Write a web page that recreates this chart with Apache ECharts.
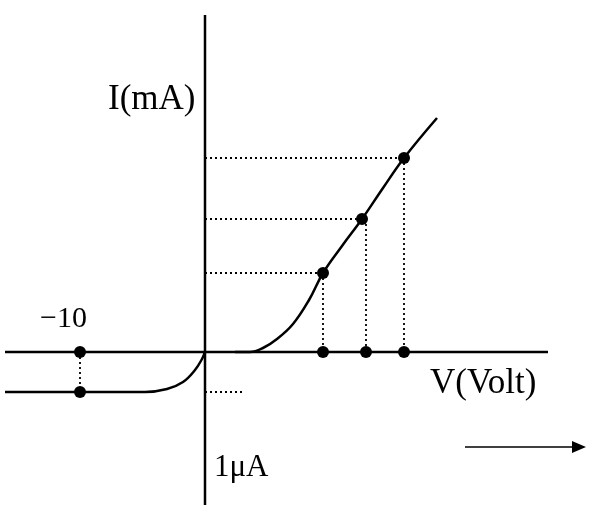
<!DOCTYPE html>
<html><head><meta charset="utf-8">
<script src="https://cdn.jsdelivr.net/npm/echarts@6/dist/echarts.min.js"></script>
<style>html,body{margin:0;padding:0;background:#fff}#c{width:604px;height:521px}</style>
</head><body><div id="c"></div>
<script>
// schematic diagram units (origin at axes crossing)
const forwardCurve = [[30,0],[45,0],[58,4],[72,13],[88,28],[104,52],[118,79],[137,106],[157,133],[178,164],[199,194],[232,234]];
const reverseCurve = [[-200,-40],[-60,-40],[-38,-37],[-22,-30],[-10,-18],[-3,-7],[0,0]];
const curvePoints = [[118,79],[157,133],[199,194]];
const axisPoints = [[118,0],[161,0],[199,0],[-125,0],[-125,-40]];
const yTickLabels = [['10',79],['15',133],['20',194]];
const xTickLabels = [['0.7',88,-56],['0.8',182,-56]];
const xAxisLine = [[-200,0],[343,0]];
const yAxisLine = [[0,-153],[0,337]];

const dotted = [];
curvePoints.forEach((p,i)=>{
  dotted.push([[0,p[1]],[p[0],p[1]]]);
  dotted.push([[axisPoints[i][0],p[1]],[axisPoints[i][0],0]]);
});
dotted.push([[-125,0],[-125,-40]]);
dotted.push([[0,-40],[38,-40]]);

const chart = echarts.init(document.getElementById('c'));
const serif = 'Liberation Serif';
const lineSeries = (d, type) => ({type:'line', data:d, showSymbol:false, smooth:type==='s'?0.4:false,
  lineStyle:{color:'#000', width:type==='s'?2.5:(type==='a'?2.5:1.8), type:type==='d'?[2,3]:'solid'}, silent:true, z:type==='d'?2:3});
const series = [
  lineSeries(xAxisLine,'a'), lineSeries(yAxisLine,'a'),
  lineSeries(forwardCurve,'s'), lineSeries(reverseCurve,'s'),
  ...dotted.map(d=>lineSeries(d,'d')),
  {type:'scatter', data:curvePoints.concat(axisPoints), symbolSize:12, itemStyle:{color:'#000', opacity:1}, z:5},
  {type:'scatter', data:yTickLabels.map(t=>[-10,t[1],t[0]]), symbolSize:1, itemStyle:{opacity:0},
   label:{show:true, formatter:p=>p.data[2], position:'left', distance:0, fontFamily:serif, fontSize:30, color:'#000'}},
  {type:'scatter', data:xTickLabels.map(t=>[t[1],t[2],t[0]]), symbolSize:1, itemStyle:{opacity:0},
   label:{show:true, formatter:p=>p.data[2], position:'inside', fontFamily:serif, fontSize:22, color:'#000'}}
];
chart.setOption({
  animation:false,
  grid:{left:0,right:0,top:0,bottom:0},
  xAxis:{type:'value', min:-205, max:399, show:false},
  yAxis:{type:'value', min:-169, max:352, show:false},
  series,
  graphic:[
    {type:'text', left:108, top:82, style:{text:'I(mA)', font:'35px "Liberation Serif"', fill:'#000'}},
    {type:'text', left:430, top:366, style:{text:'V(Volt)', font:'35px "Liberation Serif"', fill:'#000'}},
    {type:'text', left:214, top:452, style:{text:'1μA', font:'31px "Liberation Serif"', fill:'#000'}},
    {type:'text', left:40, top:304, style:{text:'−10', font:'30px "Liberation Serif"', fill:'#000'}},
    {type:'line', shape:{x1:465,y1:447,x2:582,y2:447}, style:{stroke:'#000',lineWidth:1.5}},
    {type:'polygon', shape:{points:[[586,447],[572,441],[572,453]]}, style:{fill:'#000'}}
  ]
});
</script></body></html>
